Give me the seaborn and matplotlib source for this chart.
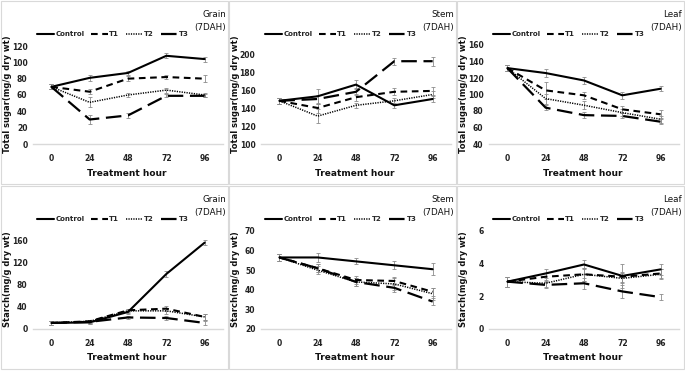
import numpy as np
import pandas as pd
import seaborn as sns
import matplotlib.pyplot as plt
from matplotlib.patches import Rectangle

# Sampling hours and treatment names
hours = [0, 24, 48, 72, 96]
treatments = ['Control', 'T1', 'T2', 'T3']

# Total sugar (mg/g dry wt), 7DAH
grain_sugar = {'Control': [70, 81, 87, 108, 104], 'T1': [70, 64, 80, 82, 80],
               'T2': [70, 51, 60, 66, 60], 'T3': [70, 30, 35, 59, 59]}
grain_sugar_err = {'Control': [3, 4, 2, 3, 3], 'T1': [3, 3, 3, 3, 4],
                   'T2': [3, 6, 3, 3, 2], 'T3': [3, 5, 3, 2, 2]}
stem_sugar = {'Control': [148, 153, 166, 143, 150], 'T1': [148, 140, 152, 158, 159],
              'T2': [148, 131, 143, 148, 155], 'T3': [148, 150, 158, 192, 192]}
stem_sugar_err = {'Control': [3, 8, 5, 3, 3], 'T1': [3, 6, 4, 4, 4],
                  'T2': [3, 8, 3, 3, 4], 'T3': [3, 5, 4, 4, 5]}
leaf_sugar = {'Control': [132, 126, 117, 99, 107], 'T1': [132, 105, 99, 82, 76],
              'T2': [132, 95, 87, 78, 70], 'T3': [132, 84, 75, 74, 67]}
leaf_sugar_err = {'Control': [4, 5, 4, 4, 3], 'T1': [4, 10, 4, 4, 5],
                  'T2': [4, 6, 5, 4, 4], 'T3': [4, 3, 4, 3, 3]}

# Starch (mg/g dry wt), 7DAH
grain_starch = {'Control': [11, 12, 31, 100, 157], 'T1': [11, 14, 34, 37, 22],
                'T2': [11, 14, 33, 33, 22], 'T3': [11, 13, 21, 20, 11]}
grain_starch_err = {'Control': [4, 3, 3, 5, 5], 'T1': [3, 3, 3, 4, 5],
                    'T2': [3, 3, 3, 5, 6], 'T3': [3, 3, 3, 3, 4]}
stem_starch = {'Control': [56.5, 56.5, 54.5, 52.5, 50.5], 'T1': [56.5, 51, 45, 44.5, 39],
               'T2': [56.5, 50, 44, 43, 38], 'T3': [56.5, 51, 44, 41, 34]}
stem_starch_err = {'Control': [2, 2.5, 1.5, 2, 3], 'T1': [2, 2, 2, 2, 2],
                   'T2': [2, 2, 2, 3, 3], 'T3': [2, 2, 2, 2, 2]}
leaf_starch = {'Control': [2.9, 3.4, 3.95, 3.25, 3.65], 'T1': [2.9, 3.2, 3.35, 3.2, 3.4],
               'T2': [2.9, 2.8, 3.35, 3.1, 3.35], 'T3': [2.9, 2.7, 2.8, 2.3, 1.95]}
leaf_starch_err = {'Control': [0.3, 0.3, 0.25, 0.75, 0.35], 'T1': [0.3, 0.25, 0.4, 0.3, 0.3],
                   'T2': [0.3, 0.2, 0.4, 0.3, 0.3], 'T3': [0.3, 0.2, 0.35, 0.4, 0.2]}

panels = [
    ('Grain', 'Total sugar(mg/g dry wt)', grain_sugar, grain_sugar_err, [0, 20, 40, 60, 80, 100, 120]),
    ('Stem', 'Total sugar(mg/g dry wt)', stem_sugar, stem_sugar_err, [100, 120, 140, 160, 180, 200]),
    ('Leaf', 'Total sugar(mg/g dry wt)', leaf_sugar, leaf_sugar_err, [40, 60, 80, 100, 120, 140, 160]),
    ('Grain', 'Starch(mg/g dry wt)', grain_starch, grain_starch_err, [0, 40, 80, 120, 160]),
    ('Stem', 'Starch(mg/g dry wt)', stem_starch, stem_starch_err, [20, 30, 40, 50, 60, 70]),
    ('Leaf', 'Starch(mg/g dry wt)', leaf_starch, leaf_starch_err, [0, 2, 4, 6]),
]

styles = {
    'Control': dict(linestyle='-', lw=1.5),
    'T1': dict(linestyle=(0, (3.2, 2.2)), lw=1.5),
    'T2': dict(linestyle=(0, (0.8, 0.8)), lw=1.1),
    'T3': dict(linestyle=(0, (7, 3)), lw=1.6),
}

sns.set_style('white')
plt.rcParams['font.family'] = ['Liberation Sans Narrow', 'DejaVu Sans']

W, H = 685, 374
fig = plt.figure(figsize=(W / 100, H / 100), dpi=100)

col_x = [0, 228, 456]
row_y = [0, 185]
top_rel = [46, 54, 45, 56, 46, 46]


def fx(px):
    return px / W


def fy(py):
    return 1 - py / H


for i, (organ, ylab, vals, errs, yt) in enumerate(panels):
    x0 = col_x[i % 3]
    y0 = row_y[i // 3]

    # panel frame
    fig.patches.append(Rectangle((fx(x0 + 1), fy(y0 + 184)), 227 / W, 183 / H,
                                 transform=fig.transFigure, fill=False,
                                 edgecolor='#d9d9d9', lw=0.8))

    left, right = x0 + 33, x0 + 223
    top, bottom = y0 + top_rel[i], y0 + 144
    ax = fig.add_axes([fx(left), fy(bottom), (right - left) / W, (bottom - top) / H])

    for t in treatments:
        ax.errorbar(hours, vals[t], yerr=errs[t], fmt='none', ecolor='#8c8c8c',
                    elinewidth=0.6, capsize=1.5, capthick=0.6, clip_on=False)
    for t in treatments:
        sns.lineplot(x=hours, y=vals[t], ax=ax, color='black', label=t,
                     errorbar=None, clip_on=False, **styles[t])

    ax.set_xlim(-11.5, 107.5)
    ax.set_ylim(yt[0], yt[-1])
    ax.set_xticks(hours)
    ax.set_yticks(yt)
    ax.tick_params(axis='both', length=0, labelsize=5.5, colors='#222222')
    ax.tick_params(axis='x', pad=7)
    ax.tick_params(axis='y', pad=4)
    for lab in ax.get_xticklabels() + ax.get_yticklabels():
        lab.set_fontweight('bold')
    sns.despine(ax=ax, left=True)
    ax.spines['bottom'].set_color('#d9d9d9')
    ax.spines['bottom'].set_linewidth(1.0)
    ax.set_xlabel('')
    ax.set_ylabel('')
    ax.set_facecolor('none')

    ax.legend(loc='center', bbox_to_anchor=(fx(x0 + 113), fy(y0 + 34)),
              bbox_transform=fig.transFigure, ncol=4, frameon=False,
              handlelength=2.4, handletextpad=0.2, columnspacing=1.0,
              prop={'weight': 'bold', 'size': 5})

    fig.text(fx(x0 + 226), fy(y0 + 21), f'{organ}\n(7DAH)', ha='right', va='center',
             fontsize=6.3, linespacing=1.6, color='#111111')
    fig.text(fx(x0 + 127), fy(y0 + 173), 'Treatment hour', ha='center', va='center',
             fontsize=6.5, fontweight='bold', color='#111111')
    fig.text(fx(x0 + 8), fy(y0 + 94), ylab, ha='center', va='center', rotation=90,
             fontsize=6, fontweight='bold', color='#111111')

fig.savefig('out.png', dpi=100)
